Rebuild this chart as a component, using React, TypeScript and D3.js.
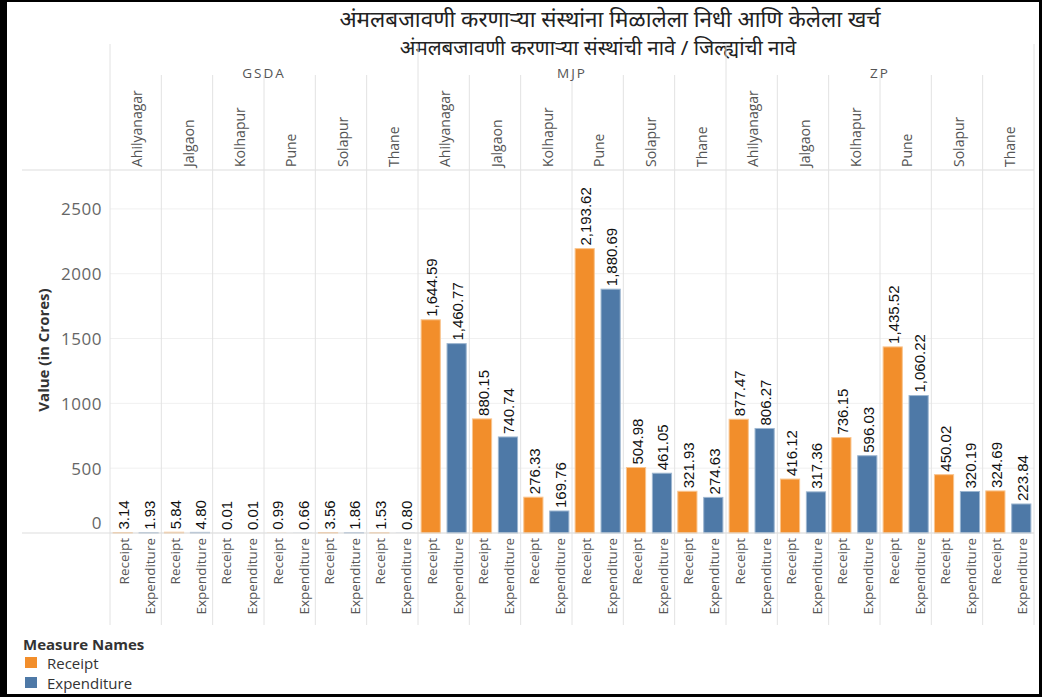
import React from "react";
import * as d3 from "d3";

const agencies = ["GSDA", "MJP", "ZP"];
const districts = ["Ahilyanagar", "Jalgaon", "Kolhapur", "Pune", "Solapur", "Thane"];
const measures = ["Receipt", "Expenditure"];
const receipt = [
  3.14, 5.84, 0.01, 0.99, 3.56, 1.53,
  1644.59, 880.15, 276.33, 2193.62, 504.98, 321.93,
  877.47, 416.12, 736.15, 1435.52, 450.02, 324.69,
];
const expenditure = [
  1.93, 4.8, 0.01, 0.66, 1.86, 0.8,
  1460.77, 740.74, 169.76, 1880.69, 461.05, 274.63,
  806.27, 317.36, 596.03, 1060.22, 320.19, 223.84,
];
const yTicks = [0, 500, 1000, 1500, 2000, 2500];
const title1 = "अंमलबजावणी करणाऱ्या संस्थांना मिळालेला निधी आणि केलेला खर्च";
const title2 = "अंमलबजावणी करणाऱ्या संस्थांची नावे / जिल्ह्यांची नावे";
const yTitle = "Value (in Crores)";
const legendTitle = "Measure Names";

const W = 1042;
const H = 697;
const colors: Record<string, string> = { Receipt: "#F28E2B", Expenditure: "#4E79A7" };
const strokes: Record<string, string> = { Receipt: "#F9C58F", Expenditure: "#9DB6D0" };

export default function App() {
  const plotLeft = 110;
  const plotRight = 1034;
  const plotTop = 170;
  const baseline = 533;
  const panes = agencies.flatMap((a) => districts.map((d) => `${a}|${d}`));
  const x = d3.scaleBand<string>().domain(panes).range([plotLeft, plotRight]);
  const xi = d3.scaleBand<string>().domain(measures).range([0, x.bandwidth()]).paddingInner(0.26).paddingOuter(0.12);
  const y = d3.scaleLinear().domain([0, 2800]).range([baseline, plotTop]);
  const fmt = d3.format(",.2f");
  const font = "'Open Sans', 'Noto Sans', sans-serif";
  const labelFont = "'Liberation Sans', Arial, sans-serif";
  const rows = panes.map((p, i) => ({ p, values: [receipt[i], expenditure[i]] }));

  return (
    <div style={{ position: "absolute", left: 0, top: 0 }}>
      <svg width={W} height={H} style={{ display: "block", fontFamily: font }}>
        <rect x={0} y={0} width={W} height={H} fill="#000" />
        <rect x={7} y={2} width={1032} height={692} fill="#fff" />
        {/* titles */}
        <text x={610} y={27} textAnchor="middle" fontSize={22.5} fill="#222" fontFamily="'Noto Sans', sans-serif">{title1}</text>
        <text x={598} y={55} textAnchor="middle" fontSize={20.5} fill="#222" fontFamily="'Noto Sans', sans-serif">{title2}</text>
        {/* gridlines */}
        {yTicks.map((t) => (
          <line key={t} x1={plotLeft} x2={plotRight} y1={y(t)} y2={y(t)} stroke="#f0f0f0" strokeWidth={1} />
        ))}
        {/* header horizontal lines */}
        <line x1={22} x2={plotRight} y1={plotTop} y2={plotTop} stroke="#ddd" />
        {/* pane vertical lines */}
        {panes.map((p, i) => {
          const xx = x(p)!;
          const isGroup = i % districts.length === 0;
          return (
            <line key={p} x1={xx} x2={xx} y1={isGroup ? 44 : 75} y2={625} stroke="#e2e2e2" strokeWidth={1} />
          );
        })}
        <line x1={plotRight} x2={plotRight} y1={44} y2={625} stroke="#e2e2e2" />
        {/* group headers */}
        {agencies.map((a) => {
          const x0 = x(`${a}|${districts[0]}`)!;
          const x1 = x(`${a}|${districts[districts.length - 1]}`)! + x.bandwidth();
          return (
            <text key={a} x={(x0 + x1) / 2} y={78} textAnchor="middle" fontSize={13.5} fill="#555" letterSpacing={2}>{a}</text>
          );
        })}
        {/* district headers */}
        {panes.map((p) => {
          const d = p.split("|")[1];
          const cx = x(p)! + x.bandwidth() / 2 + 1;
          return (
            <text key={p} transform={`translate(${cx},167) rotate(-90)`} dominantBaseline="central" fontSize={14} fill="#555">{d}</text>
          );
        })}
        {/* y axis */}
        {yTicks.map((t) => (
          <text key={t} x={102} y={t === 0 ? 522 : y(t)} textAnchor="end" dominantBaseline="central" fontSize={17} fill="#666" letterSpacing={0.5}>{t}</text>
        ))}
        <text transform={`translate(43,350) rotate(-90)`} textAnchor="middle" dominantBaseline="central" fontSize={15} fontWeight="bold" fill="#333">{yTitle}</text>
        {/* bars */}
        {rows.map((r) => (
          <g key={r.p} transform={`translate(${x(r.p)},0)`}>
            {measures.map((m, mi) => {
              const v = r.values[mi];
              const bx = xi(m)!;
              const bw = xi.bandwidth();
              const top = y(v);
              const cx = bx + bw / 2;
              return (
                <g key={m}>
                  <rect x={bx} y={top} width={bw} height={Math.max(0, baseline - top)} fill={colors[m]} stroke={strokes[m]} strokeWidth={v > 1 ? 1 : 0} />
                  <text transform={`translate(${cx + 1},${top - 3}) rotate(-90)`} dominantBaseline="central" fontSize={15} fill="#111" fontFamily={labelFont}>{fmt(v)}</text>
                  <text transform={`translate(${cx + 1},538) rotate(-90)`} textAnchor="end" dominantBaseline="central" fontSize={13.5} fill="#555">{m}</text>
                </g>
              );
            })}
          </g>
        ))}
        {/* baseline */}
        <line x1={22} x2={plotRight} y1={baseline} y2={baseline} stroke="#ddd" />
        {/* legend */}
        <text x={23} y={650} fontSize={15} fontWeight="bold" fill="#333">{legendTitle}</text>
        {measures.map((m, i) => (
          <g key={m} transform={`translate(25,${657 + i * 20})`}>
            <rect x={0} y={0} width={12} height={11} fill={colors[m]} />
            <text x={22} y={5.5} dominantBaseline="central" fontSize={15} fill="#333">{m}</text>
          </g>
        ))}
      </svg>
    </div>
  );
}
